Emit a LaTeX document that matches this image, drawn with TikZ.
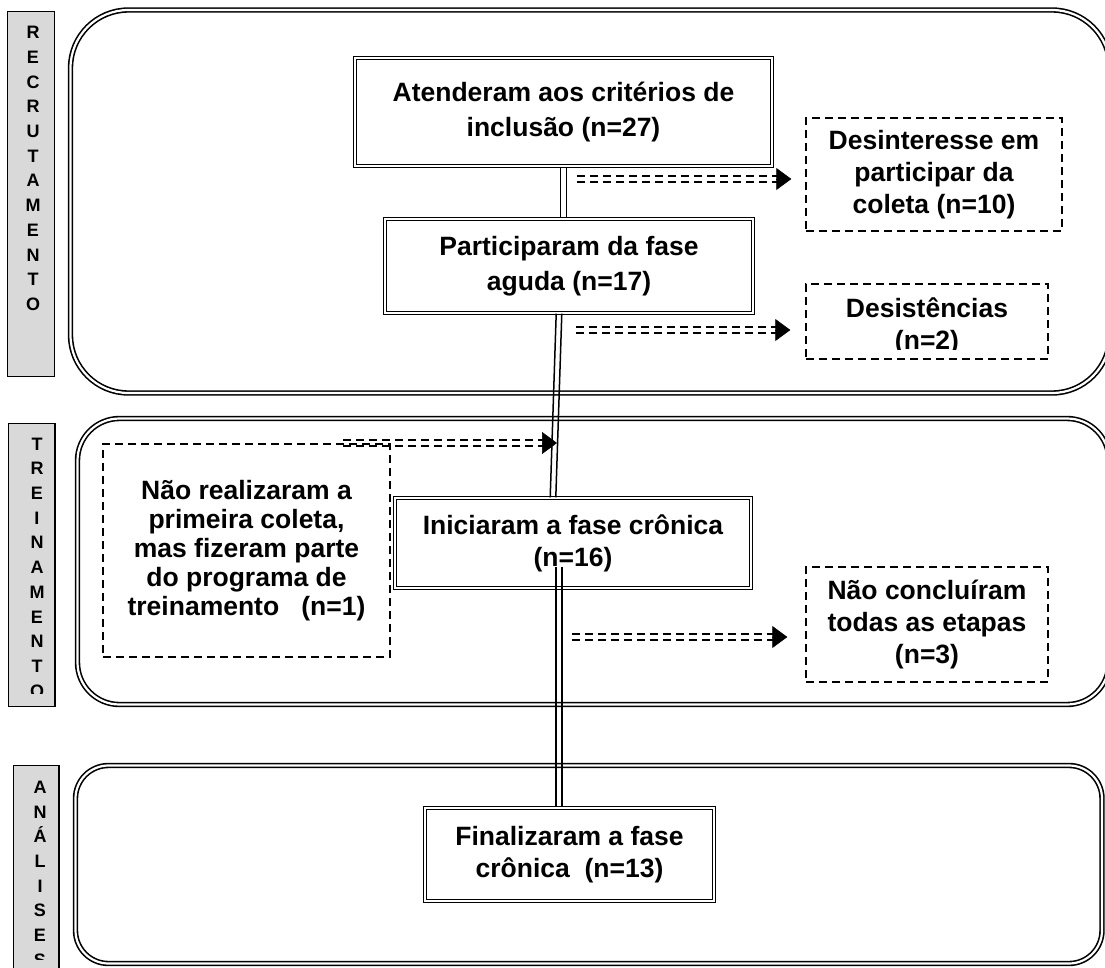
\documentclass[tikz,border=0pt]{standalone}
\usepackage{fontspec}
\setmainfont{Liberation Sans}
\usepackage{tikz}
\usetikzlibrary{arrows.meta}
\definecolor{cinza}{HTML}{D9D9D9}
\newcommand{\txtbox}{\fontsize{26.5}{32}\selectfont\bfseries}
\newcommand{\txtlargo}{\fontsize{26.5}{35}\selectfont\bfseries}
\newcommand{\txtdenso}{\fontsize{26.5}{29}\selectfont\bfseries}
\newcommand{\txtside}{\fontsize{18}{24.7}\selectfont\bfseries}
\tikzset{
  moldura/.style={draw, double, line width=1.6pt, double distance=2.2pt},
  caixa/.style={draw, double, line width=1.3pt, double distance=2pt, align=center, inner sep=0pt, font=\txtbox},
  tracejada/.style={draw, line width=1.4pt, dash pattern=on 8pt off 5pt, align=center, inner sep=0pt, font=\txtbox},
  lateral/.style={draw, fill=cinza, line width=1.2pt},
  letras/.style={align=center, inner sep=0pt, font=\txtside},
  ligacao/.style={draw=none,
    preaction={draw, line width=1.5pt, transform canvas={xshift=2.8pt}},
    postaction={draw, line width=1.5pt, transform canvas={xshift=-2.8pt}}},
  seta/.style={draw=none,
    preaction={draw, line width=2.2pt, dash pattern=on 8pt off 5pt, transform canvas={yshift=3pt}},
    postaction={draw, line width=2.2pt, dash pattern=on 8pt off 5pt, transform canvas={yshift=-3pt}}},
  ponta/.style={-{Triangle[length=15pt,width=22pt]}, line width=0.5pt}
}
\begin{document}
\begin{tikzpicture}[x=1pt, y=-1pt]
    \useasboundingbox (0,0) rectangle (1105,968);
    \clip (0,0) rectangle (1105,968);
    % molduras
    \draw[moldura, rounded corners=58pt] (70.5,10) rectangle (1110,393);
    \draw[moldura, rounded corners=42pt] (77.5,418.5) rectangle (1109,704.5);
    \draw[moldura, rounded corners=33pt] (75.5,765.5) rectangle (1102,963.5);
    % etapas
    \node[lateral, minimum width=47pt, minimum height=365pt] (recr) at (31,194) {};
    \node[letras] (recrtxt) at (33,168.5) {R\\E\\C\\R\\U\\T\\A\\M\\E\\N\\T\\O};
    \node[lateral, minimum width=46.5pt, minimum height=283pt] (trein) at (31.75,565) {};
    \begin{scope}
        \clip (8.5,423.5) rectangle (55,693);
        \node[letras] (treintxt) at (37,567.5) {T\\R\\E\\I\\N\\A\\M\\E\\N\\T\\O};
    \end{scope}
    \node[lateral, minimum width=45.5pt, minimum height=224.5pt] (anal) at (36.25,877.75) {};
    \begin{scope}
        \clip (13.5,765.5) rectangle (59,959);
        \node[letras] (analtxt) at (40,873.75) {A\\N\\Á\\L\\I\\S\\E\\S};
    \end{scope}
    % fluxo principal
    \node[caixa, font=\txtlargo, minimum width=417pt, minimum height=108pt] (A) at (563.5,112)
        {Atenderam aos critérios de\\inclusão (n=27)};
    \node[caixa, font=\txtlargo, minimum width=368pt, minimum height=94pt] (B) at (569,266)
        {Participaram da fase\\aguda (n=17)};
    \node[caixa, minimum width=356pt, minimum height=90pt] (C) at (573,543)
        {Iniciaram a fase crônica\\(n=16)};
    \node[caixa, minimum width=289pt, minimum height=93pt] (D) at (569.5,854.5)
        {Finalizaram a fase\\crônica~~(n=13)};
    \coordinate (c16) at (559,567);
    \draw[ligacao] (A.south) -- (A.south |- B.north);
    \draw[ligacao] ([xshift=-10pt]B.south) -- ([xshift=-20pt]C.north);
    \draw[ligacao] (c16) -- (c16 |- D.north);
    % perdas
    \node[tracejada, minimum width=256pt, minimum height=113pt] (desint) at (934,174.5)
        {Desinteresse em\\participar da\\coleta (n=10)};
    \node[tracejada, minimum width=242pt, minimum height=75pt] (desist) at (927,321.5) {};
    \begin{scope}
        \clip (806,284) rectangle (1048,349);
        \node[letras, font=\txtbox] (desisttxt) at (927,326) {Desistências\\(n=2)};
    \end{scope}
    \node[tracejada, minimum width=242pt, minimum height=115pt] (naoconc) at (927,624.5)
        {Não concluíram\\todas as etapas\\(n=3)};
    \node[tracejada, font=\txtdenso, minimum width=287pt, minimum height=213pt] (naoreal) at (246.5,550.5)
        {Não realizaram a\\primeira coleta,\\mas fizeram parte\\do programa de\\treinamento~~~(n=1)};
    % setas
    \coordinate (p1) at (577,179);
    \draw[seta, shorten >=27pt] (p1) -- (p1 -| desint.west);
    \draw[ponta, shorten >=14pt] ([xshift=-29pt]p1 -| desint.west) -- (p1 -| desint.west);
    \coordinate (p2) at (576,330);
    \draw[seta, shorten >=28pt] (p2) -- (p2 -| desist.west);
    \draw[ponta, shorten >=15pt] ([xshift=-30pt]p2 -| desist.west) -- (p2 -| desist.west);
    \coordinate (p3) at (343,443);
    \coordinate (t3) at (557,443);
    \draw[seta, shorten >=13pt] (p3) -- (t3);
    \draw[ponta] ([xshift=-15pt]t3) -- (t3);
    \coordinate (p4) at (572,637);
    \draw[seta, shorten >=31pt] (p4) -- (p4 -| naoconc.west);
    \draw[ponta, shorten >=18pt] ([xshift=-33pt]p4 -| naoconc.west) -- (p4 -| naoconc.west);
\end{tikzpicture}
\end{document}
